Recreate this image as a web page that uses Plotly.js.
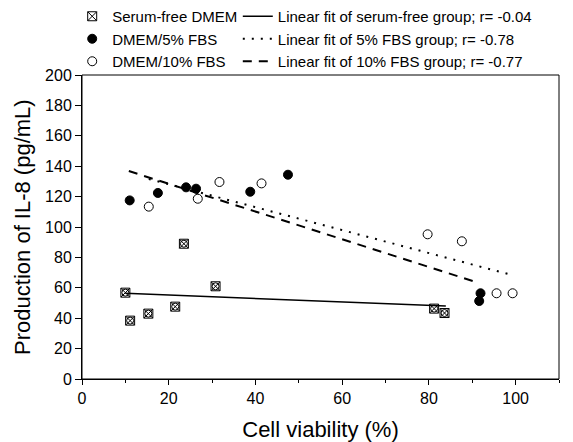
<!DOCTYPE html>
<html>
<head>
<meta charset="utf-8">
<script src="https://cdn.plot.ly/plotly-3.0.1.min.js"></script>
<style>html,body{margin:0;padding:0;background:#fff;}#chart{width:573px;height:442px;}</style>
</head>
<body>
<div id="chart"></div>
<script>
// Data
const sfX  = [10.0, 11.1, 15.3, 21.5, 23.5, 30.8, 81.2, 83.6];
const sfY  = [56.8, 38.4, 43.0, 47.6, 89.0, 61.0, 46.3, 43.4];
const f5X  = [11.0, 17.5, 24.0, 26.3, 38.8, 47.5, 91.9, 91.6];
const f5Y  = [117.5, 122.4, 126.1, 125.2, 123.2, 134.4, 56.4, 51.3];
const f10X = [15.4, 26.7, 31.7, 41.4, 79.7, 87.6, 95.6, 99.3];
const f10Y = [113.4, 118.6, 129.6, 128.7, 95.2, 90.6, 56.4, 56.4];

// Fitted line end points as drawn
const fitSfX  = [10.0, 83.9];
const fitSfY  = [56.4, 48.0];
const fit5X   = [15.4, 99.3];
const fit5Y   = [131.6, 68.3];
const fit10X  = [10.8, 90.6];
const fit10Y  = [136.8, 64.0];

const markerNames = ['Serum-free DMEM', 'DMEM/5% FBS', 'DMEM/10% FBS'];
const fitNames = [
  'Linear fit of serum-free group; r= -0.04',
  'Linear fit of 5% FBS group; r= -0.78',
  'Linear fit of 10% FBS group; r= -0.77'
];
const xTicks = [0, 20, 40, 60, 80, 100];
const yTicks = [0, 20, 40, 60, 80, 100, 120, 140, 160, 180, 200];
const xTitle = 'Cell viability (%)';
const yTitle = 'Production of IL-8 (pg/mL)';

const FONT = 'Liberation Sans, Arial, Helvetica, sans-serif';

const traces = [
  {x: fitSfX, y: fitSfY, mode: 'lines', name: fitNames[0], legend: 'legend2',
   line: {color: '#000', width: 1.5}},
  {x: fit5X, y: fit5Y, mode: 'lines', name: fitNames[1], legend: 'legend2',
   line: {color: '#000', width: 2, dash: '2px,7px'}},
  {x: fit10X, y: fit10Y, mode: 'lines', name: fitNames[2], legend: 'legend2',
   line: {color: '#000', width: 2, dash: '9px,7px'}},
  {x: sfX, y: sfY, mode: 'markers', name: markerNames[0], legend: 'legend',
   marker: {symbol: 'square-x-open', size: 9, color: '#000', line: {width: 1, color: '#000'}}},
  {x: sfX, y: sfY, mode: 'markers', showlegend: false, hoverinfo: 'skip',
   marker: {symbol: 'circle-open', size: 7, color: '#000', line: {width: 1, color: '#000'}}},
  {x: f5X, y: f5Y, mode: 'markers', name: markerNames[1], legend: 'legend',
   marker: {symbol: 'circle', size: 9, color: '#000', line: {width: 1, color: '#000'}}},
  {x: f10X, y: f10Y, mode: 'markers', name: markerNames[2], legend: 'legend',
   marker: {symbol: 'circle', size: 9, color: '#fff', line: {width: 1, color: '#000'}}}
];

const layout = {
  width: 573, height: 442,
  margin: {l: 82, r: 14, t: 75, b: 63, pad: 0, autoexpand: false},
  paper_bgcolor: '#fff', plot_bgcolor: '#fff',
  font: {family: FONT, color: '#000', size: 16},
  showlegend: true,
  legend: {
    xref: 'container', yref: 'container', x: 0.126, y: 1.0, xanchor: 'left', yanchor: 'top',
    font: {family: FONT, size: 15, color: '#000'}, bgcolor: 'rgba(0,0,0,0)', borderwidth: 0,
    tracegroupgap: 0
  },
  legend2: {
    xref: 'container', yref: 'container', x: 0.415, y: 1.0, xanchor: 'left', yanchor: 'top',
    font: {family: FONT, size: 15, color: '#000'}, bgcolor: 'rgba(0,0,0,0)', borderwidth: 0,
    tracegroupgap: 0
  },
  shapes: [{type: 'rect', xref: 'paper', yref: 'paper', x0: 0, x1: 1, y0: 0, y1: 1,
            line: {color: '#000', width: 1}, layer: 'above'}],
  annotations: [{
    text: yTitle, xref: 'paper', yref: 'paper', x: -0.126, y: 0.5,
    xanchor: 'center', yanchor: 'middle', textangle: -90, showarrow: false,
    font: {family: FONT, size: 22, color: '#000'}
  }],
  xaxis: {
    range: [0, 110], tickvals: xTicks, ticktext: xTicks.map(String),
    ticks: 'outside', ticklen: 5, tickwidth: 1, tickcolor: '#000',
    minor: {dtick: 10, ticks: 'outside', ticklen: 3, tickwidth: 1, tickcolor: '#000', showgrid: false},
    showline: true, linecolor: '#000', linewidth: 1,
    showgrid: false, zeroline: false,
    tickfont: {family: FONT, size: 16, color: '#000'},
    title: {text: xTitle, font: {family: FONT, size: 22, color: '#000'}, standoff: 16}
  },
  yaxis: {
    range: [0, 200], tickvals: yTicks, ticktext: yTicks.map(String),
    ticks: 'outside', ticklen: 6, tickwidth: 1, tickcolor: '#000',
    showline: true, linecolor: '#000', linewidth: 1,
    showgrid: false, zeroline: false,
    tickfont: {family: FONT, size: 16, color: '#000'}
  }
};

Plotly.newPlot('chart', traces, layout, {displayModeBar: false, staticPlot: true});
</script>
</body>
</html>
